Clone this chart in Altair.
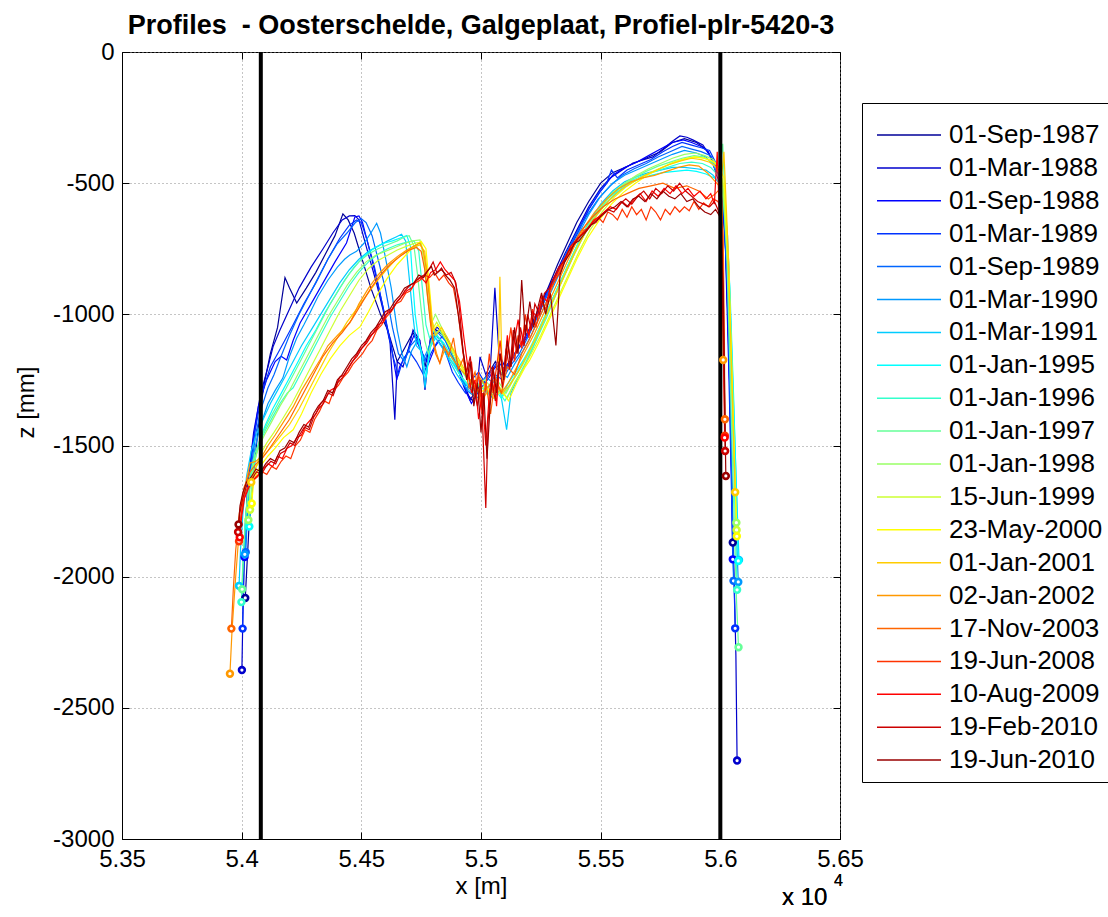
import altair as alt
import pandas as pd

# Survey dates (legend order) and their jet(20) colours
dates = [
    "01-Sep-1987", "01-Mar-1988", "01-Sep-1988", "01-Mar-1989", "01-Sep-1989",
    "01-Mar-1990", "01-Mar-1991", "01-Jan-1995", "01-Jan-1996", "01-Jan-1997",
    "01-Jan-1998", "15-Jun-1999", "23-May-2000", "01-Jan-2001", "02-Jan-2002",
    "17-Nov-2003", "19-Jun-2008", "10-Aug-2009", "19-Feb-2010", "19-Jun-2010",
]
jet_colors = [
    "#000099", "#0000cc", "#0000ff", "#0033ff", "#0066ff",
    "#0099ff", "#00ccff", "#00ffff", "#33ffcc", "#66ff99",
    "#99ff66", "#ccff33", "#ffff00", "#ffcc00", "#ff9900",
    "#ff6600", "#ff3300", "#ff0000", "#cc0000", "#990000",
]

x_ticks = [53500, 54000, 54500, 55000, 55500, 56000, 56500]
z_ticks = [-3000, -2500, -2000, -1500, -1000, -500, 0]
boundary_x = [54080, 56000]

# Profile (x [m], z [mm]) per survey
p1987_09 = [(54015, -2081), (54030, -1820), (54055, -1560), (54075, -1380), (54095, -1260), (54120, -1150), (54150, -1050), (54181, -860), (54200, -900), (54230, -957), (54270, -900), (54310, -840), (54350, -770), (54390, -700), (54423, -617), (54445, -640), (54470, -690), (54500, -780), (54540, -900), (54580, -1000), (54610, -1060), (54630, -1120), (54650, -1180), (54680, -1130), (54716, -1070), (54745, -1110), (54766, -1200), (54790, -1100), (54815, -1060), (54856, -1090), (54890, -1180), (54912, -1220), (54940, -1300), (54965, -1330), (54990, -1280), (55010, -1250), (55035, -1220), (55060, -1180), (55085, -1230), (55110, -1200), (55140, -1150), (55170, -1110), (55200, -1060), (55240, -990), (55280, -900), (55320, -810), (55360, -730), (55400, -650), (55450, -570), (55500, -500), (55550, -460), (55600, -440), (55650, -420), (55700, -400), (55750, -380), (55800, -345), (55850, -330), (55900, -345), (55940, -370), (55975, -420), (56000, -470), (56020, -700), (56035, -1100), (56045, -1500), (56052, -1870)]
p1988_03 = [(54001, -2356), (54005, -2150), (54012, -1900), (54025, -1650), (54050, -1450), (54080, -1300), (54110, -1200), (54131, -1124), (54160, -1060), (54200, -980), (54240, -900), (54290, -820), (54340, -750), (54381, -690), (54420, -640), (54450, -625), (54473, -624), (54490, -640), (54520, -740), (54560, -870), (54590, -980), (54620, -1109), (54640, -1402), (54650, -1180), (54674, -1200), (54700, -1120), (54716, -1060), (54745, -1100), (54766, -1288), (54787, -1098), (54815, -1048), (54856, -1086), (54890, -1150), (54912, -1212), (54954, -1326), (54983, -1288), (54996, -1162), (55020, -1230), (55040, -1190), (55058, -899), (55075, -1150), (55100, -1200), (55130, -1170), (55160, -1120), (55190, -1080), (55230, -1000), (55270, -920), (55310, -850), (55350, -770), (55400, -680), (55450, -590), (55500, -520), (55540, -480), (55590, -450), (55635, -423), (55680, -410), (55718, -400), (55760, -370), (55800, -340), (55831, -320), (55860, -325), (55885, -335), (55927, -354), (55960, -400), (55985, -470), (56005, -520), (56025, -800), (56040, -1300), (56055, -1900), (56065, -2300), (56070, -2701)]
p1988_09 = [(54012, -1925), (54025, -1700), (54045, -1500), (54070, -1350), (54104, -1250), (54140, -1180), (54165, -1160), (54188, -1174), (54215, -1100), (54244, -1033), (54290, -960), (54340, -880), (54390, -800), (54438, -728), (54473, -629), (54490, -625), (54505, -650), (54530, -740), (54560, -850), (54595, -990), (54625, -1120), (54648, -1250), (54660, -1200), (54690, -1150), (54720, -1080), (54750, -1140), (54780, -1190), (54810, -1120), (54840, -1080), (54870, -1130), (54900, -1200), (54930, -1280), (54960, -1340), (54985, -1300), (55010, -1270), (55035, -1240), (55060, -1200), (55090, -1230), (55120, -1190), (55150, -1140), (55190, -1090), (55230, -1020), (55270, -940), (55310, -860), (55350, -780), (55400, -690), (55450, -600), (55500, -530), (55550, -470), (55600, -440), (55650, -420), (55700, -395), (55750, -370), (55800, -345), (55845, -335), (55880, -345), (55920, -360), (55950, -380), (55975, -440), (56000, -480), (56020, -700), (56035, -1200), (56045, -1600), (56052, -1934)]
p1989_03 = [(54004, -2198), (54008, -2000), (54015, -1800), (54030, -1620), (54055, -1450), (54085, -1300), (54120, -1200), (54150, -1150), (54180, -1100), (54215, -1040), (54260, -960), (54310, -880), (54360, -790), (54410, -710), (54450, -660), (54480, -640), (54500, -650), (54525, -720), (54555, -820), (54585, -950), (54610, -1060), (54635, -1170), (54655, -1230), (54675, -1170), (54700, -1140), (54730, -1180), (54760, -1230), (54790, -1150), (54820, -1100), (54850, -1140), (54880, -1220), (54905, -1260), (54935, -1300), (54960, -1250), (54990, -1220), (55015, -1260), (55040, -1220), (55070, -1180), (55100, -1210), (55135, -1160), (55170, -1110), (55210, -1050), (55250, -970), (55290, -890), (55330, -820), (55370, -750), (55410, -680), (55450, -600), (55490, -540), (55525, -500), (55545, -450), (55570, -480), (55610, -450), (55660, -430), (55710, -410), (55760, -380), (55800, -360), (55840, -345), (55880, -355), (55920, -365), (55955, -375), (55980, -420), (56000, -470), (56020, -640), (56035, -1000), (56045, -1500), (56052, -1900), (56058, -2050), (56062, -2197)]
p1989_09 = [(54017, -1907), (54025, -1750), (54040, -1580), (54060, -1450), (54085, -1350), (54110, -1280), (54135, -1230), (54160, -1170), (54200, -1080), (54240, -1000), (54280, -930), (54320, -860), (54360, -790), (54400, -730), (54440, -690), (54475, -650), (54500, -636), (54520, -650), (54545, -700), (54570, -790), (54600, -900), (54630, -1050), (54655, -1150), (54680, -1180), (54705, -1120), (54735, -1090), (54766, -1180), (54790, -1100), (54820, -1070), (54850, -1100), (54880, -1160), (54910, -1220), (54940, -1290), (54970, -1310), (55000, -1250), (55030, -1280), (55060, -1230), (55090, -1250), (55120, -1200), (55160, -1150), (55200, -1080), (55240, -1000), (55280, -920), (55320, -840), (55360, -760), (55400, -690), (55445, -620), (55490, -560), (55540, -510), (55590, -470), (55640, -445), (55690, -425), (55740, -400), (55790, -380), (55840, -360), (55880, -370), (55920, -380), (55960, -395), (55990, -450), (56010, -520), (56030, -900), (56045, -1500), (56055, -2016)]
p1990_03 = [(54013, -1915), (54022, -1780), (54035, -1640), (54055, -1510), (54080, -1420), (54110, -1340), (54140, -1290), (54172, -1243), (54200, -1160), (54230, -1090), (54260, -1040), (54285, -995), (54320, -930), (54360, -870), (54400, -820), (54430, -790), (54452, -774), (54480, -760), (54510, -730), (54540, -690), (54564, -653), (54580, -690), (54600, -780), (54625, -900), (54650, -1060), (54670, -1150), (54690, -1200), (54710, -1140), (54735, -1100), (54760, -1170), (54785, -1120), (54810, -1080), (54840, -1110), (54870, -1170), (54900, -1210), (54930, -1260), (54960, -1290), (54990, -1270), (55020, -1240), (55050, -1260), (55080, -1220), (55110, -1240), (55140, -1190), (55175, -1140), (55210, -1080), (55250, -1000), (55290, -920), (55330, -840), (55370, -760), (55410, -690), (55450, -620), (55500, -550), (55550, -500), (55600, -470), (55650, -450), (55700, -430), (55750, -410), (55800, -390), (55850, -375), (55900, -385), (55940, -400), (55970, -430), (55990, -470), (56010, -520), (56030, -700), (56045, -1100), (56060, -1600), (56070, -1900), (56075, -2020)]
p1991_03 = [(53989, -2035), (53995, -1900), (54005, -1760), (54020, -1620), (54040, -1520), (54065, -1450), (54090, -1400), (54120, -1340), (54150, -1290), (54180, -1240), (54215, -1180), (54250, -1120), (54290, -1060), (54330, -1000), (54370, -940), (54410, -880), (54450, -830), (54490, -790), (54530, -760), (54570, -740), (54610, -720), (54645, -705), (54668, -695), (54685, -720), (54700, -860), (54715, -1000), (54730, -1120), (54750, -1140), (54766, -1280), (54785, -1130), (54810, -1090), (54840, -1130), (54870, -1180), (54900, -1230), (54930, -1270), (54960, -1300), (54990, -1320), (55020, -1290), (55050, -1320), (55080, -1290), (55107, -1440), (55125, -1300), (55150, -1250), (55180, -1200), (55215, -1130), (55250, -1050), (55290, -960), (55330, -880), (55370, -800), (55410, -720), (55450, -650), (55500, -580), (55550, -530), (55600, -495), (55650, -475), (55700, -460), (55750, -450), (55800, -440), (55850, -440), (55900, -445), (55940, -450), (55970, -470), (55995, -500), (56015, -560), (56035, -800), (56050, -1200), (56065, -1600), (56078, -1936)]
p1995_01 = [(54032, -1809), (54040, -1680), (54055, -1560), (54075, -1480), (54100, -1420), (54130, -1360), (54160, -1310), (54195, -1250), (54230, -1190), (54270, -1120), (54310, -1060), (54350, -990), (54390, -930), (54430, -870), (54470, -820), (54510, -780), (54550, -750), (54590, -730), (54630, -720), (54660, -710), (54690, -700), (54705, -740), (54715, -880), (54725, -1000), (54740, -1100), (54755, -1160), (54770, -1240), (54790, -1120), (54815, -1080), (54845, -1110), (54875, -1160), (54905, -1220), (54935, -1260), (54965, -1290), (54995, -1270), (55025, -1300), (55055, -1280), (55085, -1320), (55115, -1260), (55145, -1220), (55180, -1170), (55215, -1110), (55255, -1030), (55295, -950), (55335, -870), (55375, -790), (55415, -720), (55460, -650), (55510, -590), (55560, -540), (55610, -505), (55660, -485), (55710, -470), (55760, -460), (55810, -455), (55860, -450), (55900, -455), (55940, -465), (55975, -480), (56000, -500), (56020, -600), (56040, -900), (56055, -1300), (56068, -1700), (56075, -1940)]
p1996_01 = [(53999, -2097), (54005, -1950), (54015, -1800), (54030, -1660), (54050, -1560), (54075, -1490), (54100, -1440), (54130, -1390), (54160, -1340), (54190, -1300), (54215, -1280), (54250, -1220), (54290, -1150), (54330, -1080), (54370, -1010), (54410, -950), (54450, -890), (54490, -840), (54530, -800), (54570, -770), (54610, -750), (54650, -735), (54690, -725), (54720, -720), (54740, -760), (54755, -900), (54770, -1040), (54785, -1090), (54805, -1060), (54830, -1100), (54860, -1150), (54890, -1200), (54920, -1240), (54950, -1270), (54980, -1300), (55010, -1280), (55040, -1310), (55070, -1290), (55100, -1330), (55130, -1280), (55160, -1230), (55195, -1170), (55235, -1090), (55275, -1010), (55315, -920), (55355, -840), (55395, -760), (55435, -690), (55480, -620), (55530, -560), (55580, -520), (55630, -490), (55680, -470), (55730, -455), (55780, -440), (55830, -425), (55880, -420), (55925, -425), (55960, -440), (55990, -470), (56010, -520), (56030, -800), (56045, -1200), (56060, -1700), (56070, -2050)]
p1997_01 = [(54002, -2048), (54008, -1900), (54018, -1750), (54033, -1620), (54055, -1530), (54080, -1470), (54110, -1410), (54140, -1360), (54175, -1300), (54210, -1240), (54250, -1170), (54290, -1100), (54330, -1030), (54370, -960), (54410, -900), (54450, -845), (54490, -800), (54530, -770), (54570, -750), (54610, -735), (54650, -720), (54680, -705), (54700, -700), (54720, -740), (54735, -850), (54750, -980), (54765, -1100), (54780, -1150), (54800, -1080), (54825, -1060), (54855, -1100), (54885, -1160), (54915, -1210), (54945, -1250), (54975, -1280), (55005, -1260), (55035, -1300), (55065, -1270), (55095, -1310), (55125, -1260), (55160, -1210), (55195, -1150), (55235, -1070), (55275, -990), (55315, -910), (55355, -830), (55395, -750), (55440, -670), (55490, -600), (55540, -550), (55590, -510), (55640, -480), (55690, -455), (55740, -435), (55790, -420), (55840, -405), (55890, -395), (55930, -400), (55965, -420), (55995, -460), (56010, -350), (56025, -700), (56040, -1200), (56055, -1700), (56068, -2100), (56076, -2269)]
p1998_01 = [(54028, -1784), (54035, -1660), (54050, -1570), (54070, -1510), (54095, -1460), (54125, -1410), (54160, -1350), (54200, -1290), (54240, -1220), (54280, -1150), (54320, -1080), (54360, -1010), (54400, -950), (54440, -890), (54480, -840), (54520, -800), (54560, -775), (54600, -760), (54640, -745), (54680, -730), (54715, -720), (54745, -716), (54760, -780), (54775, -920), (54790, -1040), (54810, -1000), (54835, -1050), (54865, -1100), (54895, -1160), (54925, -1210), (54955, -1250), (54985, -1270), (55015, -1250), (55045, -1280), (55075, -1260), (55105, -1300), (55135, -1250), (55170, -1200), (55205, -1140), (55245, -1060), (55285, -980), (55325, -900), (55365, -820), (55405, -740), (55450, -660), (55500, -590), (55550, -535), (55600, -500), (55650, -470), (55700, -445), (55750, -425), (55800, -405), (55850, -390), (55895, -385), (55935, -395), (55970, -410), (55995, -440), (56010, -500), (56030, -800), (56045, -1200), (56058, -1550), (56067, -1794)]
p1999_06 = [(54035, -1745), (54045, -1650), (54060, -1580), (54080, -1530), (54105, -1490), (54135, -1450), (54170, -1400), (54210, -1340), (54250, -1270), (54290, -1200), (54330, -1130), (54370, -1060), (54410, -990), (54450, -930), (54490, -870), (54530, -825), (54570, -795), (54610, -775), (54650, -755), (54690, -740), (54725, -728), (54750, -725), (54765, -800), (54780, -950), (54795, -1060), (54815, -1030), (54840, -1070), (54870, -1120), (54900, -1170), (54930, -1220), (54960, -1260), (54990, -1290), (55020, -1270), (55050, -1300), (55080, -1280), (55110, -1320), (55140, -1260), (55175, -1210), (55210, -1150), (55250, -1080), (55290, -1000), (55330, -920), (55370, -840), (55410, -760), (55455, -680), (55505, -610), (55555, -555), (55605, -515), (55655, -485), (55705, -460), (55755, -440), (55805, -420), (55855, -405), (55900, -400), (55940, -405), (55975, -420), (56000, -450), (56015, -520), (56035, -850), (56050, -1300), (56062, -1650), (56068, -1822)]
p2000_05 = [(54042, -1721), (54050, -1640), (54065, -1600), (54085, -1570), (54110, -1540), (54140, -1510), (54175, -1470), (54215, -1440), (54250, -1380), (54290, -1300), (54330, -1230), (54370, -1170), (54410, -1120), (54450, -1080), (54494, -1048), (54530, -990), (54570, -920), (54610, -860), (54650, -810), (54690, -770), (54720, -740), (54750, -722), (54770, -750), (54785, -900), (54800, -1060), (54820, -1040), (54845, -1080), (54875, -1130), (54905, -1180), (54935, -1230), (54965, -1270), (54995, -1300), (55025, -1280), (55055, -1320), (55085, -1290), (55115, -1330), (55150, -1260), (55185, -1200), (55204, -1174), (55240, -1110), (55280, -1030), (55320, -950), (55360, -870), (55400, -790), (55445, -710), (55495, -640), (55545, -580), (55595, -535), (55645, -500), (55695, -470), (55745, -445), (55795, -425), (55845, -410), (55890, -400), (55930, -405), (55965, -415), (55995, -440), (56015, -480), (56035, -800), (56050, -1250), (56062, -1650), (56069, -1846)]
p2001_01 = [(54040, -1640), (54055, -1590), (54075, -1560), (54100, -1530), (54130, -1500), (54165, -1460), (54200, -1420), (54240, -1360), (54280, -1290), (54320, -1220), (54360, -1150), (54400, -1090), (54440, -1030), (54480, -980), (54520, -930), (54560, -880), (54600, -835), (54640, -795), (54680, -765), (54715, -745), (54745, -735), (54765, -760), (54780, -880), (54795, -1020), (54810, -1080), (54835, -1050), (54865, -1100), (54895, -1150), (54925, -1200), (54955, -1250), (54985, -1290), (55015, -1310), (55045, -1280), (55070, -1300), (55079, -857), (55090, -1300), (55120, -1270), (55155, -1220), (55190, -1160), (55230, -1090), (55270, -1010), (55310, -930), (55350, -850), (55390, -770), (55435, -690), (55485, -620), (55535, -565), (55585, -525), (55635, -495), (55685, -470), (55735, -450), (55785, -430), (55835, -415), (55880, -405), (55920, -410), (55955, -420), (55985, -440), (56005, -480), (56015, -380), (56030, -700), (56045, -1150), (56056, -1500), (56062, -1678)]
p2002_01 = [(53951, -2370), (53960, -2200), (53975, -2000), (53990, -1820), (54010, -1680), (54035, -1567), (54060, -1560), (54085, -1540), (54110, -1500), (54140, -1460), (54175, -1410), (54215, -1353), (54250, -1290), (54290, -1230), (54327, -1174), (54360, -1120), (54400, -1080), (54452, -1033), (54490, -960), (54530, -900), (54570, -850), (54610, -810), (54650, -780), (54690, -755), (54720, -740), (54745, -728), (54760, -760), (54775, -850), (54790, -1000), (54800, -1100), (54815, -1150), (54828, -1186), (54850, -1130), (54875, -1160), (54905, -1200), (54935, -1230), (54965, -1260), (54995, -1240), (55025, -1280), (55055, -1250), (55085, -1300), (55115, -1260), (55150, -1200), (55185, -1140), (55225, -1070), (55265, -990), (55305, -910), (55345, -830), (55385, -750), (55430, -670), (55475, -610), (55525, -560), (55575, -520), (55625, -495), (55675, -480), (55725, -470), (55775, -455), (55825, -440), (55870, -430), (55910, -435), (55945, -460), (55975, -490), (55995, -510), (56005, -480), (56010, -700), (56012, -1174)]
p2003_11 = [(53957, -2198), (53965, -2050), (53975, -1900), (53990, -1760), (54010, -1660), (54035, -1600), (54060, -1570), (54085, -1550), (54110, -1520), (54140, -1480), (54170, -1440), (54200, -1400), (54235, -1340), (54270, -1280), (54305, -1220), (54340, -1160), (54380, -1110), (54420, -1070), (54460, -1020), (54500, -960), (54540, -900), (54580, -850), (54620, -810), (54660, -780), (54700, -755), (54730, -745), (54750, -760), (54765, -830), (54780, -960), (54795, -1080), (54810, -1150), (54828, -1186), (54845, -1120), (54865, -1160), (54885, -1090), (54905, -1210), (54925, -1170), (54950, -1280), (54975, -1220), (55000, -1350), (55020, -1260), (55040, -1380), (55060, -1240), (55085, -1300), (55110, -1200), (55140, -1230), (55170, -1150), (55200, -1100), (55235, -1030), (55270, -960), (55305, -880), (55340, -810), (55380, -740), (55420, -680), (55465, -630), (55510, -590), (55560, -560), (55610, -540), (55660, -520), (55710, -510), (55760, -500), (55810, -520), (55860, -510), (55910, -530), (55950, -560), (55980, -540), (56000, -520), (56012, -700), (56017, -1100), (56019, -1400)]
p2008_06 = [(53989, -1865), (53995, -1780), (54005, -1720), (54020, -1670), (54040, -1640), (54065, -1620), (54085, -1600), (54105, -1610), (54125, -1580), (54145, -1590), (54165, -1560), (54185, -1540), (54205, -1550), (54225, -1500), (54245, -1480), (54265, -1440), (54285, -1450), (54305, -1400), (54325, -1370), (54345, -1330), (54365, -1340), (54385, -1290), (54405, -1270), (54425, -1240), (54445, -1220), (54465, -1190), (54485, -1170), (54505, -1150), (54525, -1120), (54545, -1100), (54565, -1060), (54585, -1040), (54605, -1010), (54625, -990), (54645, -960), (54665, -950), (54685, -920), (54705, -910), (54725, -880), (54745, -870), (54765, -850), (54785, -860), (54805, -840), (54825, -870), (54845, -850), (54865, -880), (54885, -900), (54905, -1000), (54925, -1150), (54945, -1250), (54960, -1180), (54975, -1320), (54990, -1220), (55005, -1380), (55020, -1280), (55035, -1150), (55050, -1300), (55065, -1200), (55080, -1100), (55095, -1250), (55110, -1150), (55125, -1050), (55140, -1180), (55155, -1080), (55170, -1130), (55185, -1000), (55200, -1090), (55215, -980), (55230, -1050), (55250, -950), (55270, -980), (55290, -900), (55310, -870), (55330, -840), (55350, -790), (55370, -770), (55390, -730), (55410, -710), (55430, -680), (55450, -670), (55470, -640), (55490, -630), (55510, -650), (55530, -610), (55550, -620), (55570, -640), (55590, -600), (55610, -630), (55630, -590), (55650, -620), (55670, -600), (55690, -640), (55710, -590), (55730, -610), (55750, -640), (55770, -600), (55790, -620), (55810, -590), (55830, -610), (55850, -590), (55870, -605), (55890, -570), (55910, -600), (55930, -575), (55950, -590), (55970, -560), (55990, -570), (56005, -600), (56012, -900), (56016, -1200), (56019, -1463)]
p2009_08 = [(53992, -1850), (54000, -1770), (54012, -1700), (54030, -1660), (54050, -1630), (54070, -1610), (54090, -1590), (54110, -1570), (54130, -1580), (54150, -1540), (54170, -1550), (54190, -1510), (54210, -1500), (54230, -1470), (54250, -1460), (54270, -1420), (54290, -1400), (54310, -1380), (54330, -1340), (54350, -1320), (54370, -1290), (54390, -1280), (54410, -1240), (54430, -1230), (54450, -1200), (54470, -1170), (54490, -1140), (54510, -1120), (54530, -1090), (54550, -1070), (54570, -1040), (54590, -1030), (54610, -990), (54630, -980), (54650, -950), (54670, -930), (54690, -910), (54710, -900), (54730, -870), (54750, -860), (54770, -880), (54790, -840), (54810, -830), (54830, -800), (54850, -830), (54870, -850), (54890, -870), (54910, -950), (54930, -1100), (54945, -1200), (54960, -1300), (54975, -1250), (54990, -1400), (55005, -1300), (55020, -1500), (55035, -1300), (55050, -1200), (55065, -1350), (55080, -1150), (55095, -1230), (55110, -1080), (55125, -1200), (55140, -1100), (55155, -1020), (55170, -1120), (55185, -1040), (55200, -1080), (55215, -990), (55235, -1010), (55255, -930), (55275, -950), (55295, -880), (55315, -850), (55335, -810), (55355, -780), (55375, -740), (55395, -720), (55415, -700), (55440, -680), (55465, -650), (55490, -630), (55515, -610), (55540, -590), (55565, -600), (55590, -570), (55615, -590), (55640, -560), (55665, -540), (55690, -570), (55715, -530), (55740, -550), (55765, -520), (55790, -540), (55815, -510), (55840, -540), (55865, -520), (55890, -550), (55915, -530), (55940, -560), (55960, -540), (55975, -580), (55987, -380), (55995, -600), (56008, -900), (56014, -1200), (56018, -1470)]
p2010_02 = [(53985, -1830), (53992, -1760), (54005, -1700), (54022, -1650), (54042, -1630), (54062, -1600), (54082, -1610), (54102, -1580), (54122, -1560), (54142, -1570), (54162, -1530), (54182, -1520), (54202, -1490), (54222, -1500), (54242, -1460), (54262, -1430), (54282, -1440), (54302, -1390), (54322, -1360), (54342, -1340), (54362, -1300), (54382, -1310), (54402, -1260), (54422, -1240), (54442, -1210), (54462, -1180), (54482, -1160), (54502, -1130), (54522, -1110), (54542, -1080), (54562, -1060), (54582, -1030), (54602, -1000), (54622, -990), (54642, -960), (54662, -940), (54682, -910), (54702, -890), (54722, -880), (54742, -860), (54762, -850), (54782, -830), (54800, -800), (54815, -840), (54835, -830), (54855, -850), (54875, -840), (54895, -880), (54910, -980), (54925, -1140), (54940, -1220), (54955, -1160), (54970, -1280), (54985, -1350), (55000, -1250), (55010, -1500), (55020, -1738), (55030, -1400), (55045, -1250), (55060, -1330), (55075, -1180), (55090, -1280), (55105, -1130), (55120, -1210), (55135, -1060), (55150, -1150), (55165, -1050), (55180, -1120), (55195, -1000), (55210, -1060), (55225, -960), (55245, -1000), (55265, -920), (55285, -900), (55305, -860), (55325, -820), (55345, -800), (55365, -760), (55385, -740), (55405, -710), (55430, -690), (55455, -660), (55480, -650), (55505, -620), (55530, -600), (55555, -610), (55580, -580), (55605, -560), (55630, -580), (55655, -550), (55680, -530), (55705, -560), (55730, -520), (55755, -540), (55780, -510), (55805, -530), (55830, -500), (55855, -530), (55880, -550), (55905, -570), (55930, -580), (55955, -590), (55975, -570), (55990, -600), (56005, -650), (56012, -1000), (56017, -1300), (56020, -1521)]
p2010_06 = [(53987, -1801), (53993, -1730), (54005, -1680), (54020, -1640), (54040, -1620), (54060, -1590), (54080, -1600), (54100, -1570), (54120, -1550), (54140, -1560), (54160, -1520), (54180, -1510), (54200, -1480), (54220, -1490), (54240, -1450), (54260, -1420), (54280, -1430), (54300, -1380), (54320, -1350), (54340, -1330), (54360, -1290), (54380, -1300), (54400, -1250), (54420, -1230), (54440, -1200), (54460, -1170), (54480, -1150), (54500, -1120), (54520, -1100), (54540, -1070), (54560, -1050), (54580, -1020), (54600, -990), (54620, -980), (54640, -950), (54660, -930), (54680, -900), (54700, -890), (54720, -880), (54740, -850), (54760, -860), (54780, -830), (54793, -818), (54805, -850), (54820, -840), (54835, -824), (54850, -850), (54870, -869), (54890, -900), (54905, -1000), (54925, -1136), (54940, -1250), (54955, -1180), (54970, -1350), (54985, -1260), (55000, -1450), (55012, -1300), (55025, -1550), (55038, -1350), (55050, -1200), (55065, -1300), (55080, -1150), (55095, -1250), (55110, -1100), (55125, -1200), (55140, -1050), (55155, -1150), (55170, -869), (55185, -1080), (55204, -951), (55220, -1050), (55236, -980), (55253, -918), (55270, -1000), (55290, -920), (55313, -1119), (55330, -850), (55350, -800), (55370, -770), (55390, -730), (55410, -720), (55435, -690), (55460, -660), (55485, -640), (55510, -620), (55535, -600), (55560, -590), (55585, -570), (55610, -590), (55635, -560), (55660, -550), (55685, -570), (55710, -540), (55735, -560), (55760, -530), (55785, -550), (55810, -560), (55835, -540), (55860, -570), (55885, -560), (55910, -590), (55935, -610), (55960, -620), (55980, -600), (56000, -630), (56012, -900), (56018, -1300), (56023, -1616)]

profiles = [
    p1987_09, p1988_03, p1988_09, p1989_03, p1989_09, p1990_03, p1991_03,
    p1995_01, p1996_01, p1997_01, p1998_01, p1999_06, p2000_05, p2001_01,
    p2002_01, p2003_11, p2008_06, p2009_08, p2010_02, p2010_06,
]

rows = []
ends = []
for k, (date, prof) in enumerate(zip(dates, profiles)):
    for i, (x, z) in enumerate(prof):
        rows.append({"date": date, "series": k, "i": i, "x": x, "z": z})
    for x, z in (prof[0], prof[-1]):
        ends.append({"date": date, "series": k, "x": x, "z": z})
lines_df = pd.DataFrame(rows)
ends_df = pd.DataFrame(ends)
bounds_df = pd.DataFrame({"x": boundary_x})

FONT = "Liberation Sans"
PLOT_W = 718
PLOT_H = 787

x_scale = alt.Scale(domain=[53500, 56500], nice=False, zero=False)
z_scale = alt.Scale(domain=[-3000, 0], nice=False, zero=False)


def inner_ticks(orient, offset, values):
    """Tick-only axis pushed across the plot so its ticks point inward."""
    return alt.Axis(
        orient=orient,
        offset=offset,
        values=values,
        labels=False,
        domain=False,
        grid=False,
        ticks=True,
        tickSize=7,
        tickColor="black",
        tickWidth=1,
        title=None,
    )


x_main = alt.X(
    "x:Q",
    scale=x_scale,
    axis=alt.Axis(
        values=x_ticks,
        labelExpr="format(datum.value / 10000, '.2~f')",
        labelFlush=False,
        title="x [m]",
        grid=True,
        labelPadding=8,
        titlePadding=3,
    ),
)
z_main = alt.Y(
    "z:Q",
    scale=z_scale,
    axis=alt.Axis(
        values=z_ticks,
        labelExpr="datum.value == 0 ? '0' : '-' + format(-datum.value, 'd')",
        labelFlush=False,
        title="z [mm]",
        titleY=350,
        grid=True,
        labelPadding=8,
        titlePadding=14,
    ),
)

color_scale = alt.Scale(domain=dates, range=jet_colors)

lines = alt.Chart(lines_df).mark_line(strokeWidth=1.2, clip=True).encode(
    x=x_main,
    y=z_main,
    order=alt.Order("i:Q"),
    color=alt.Color(
        "date:N",
        scale=color_scale,
        legend=alt.Legend(
            title=" ",
            titleFontSize=10,
            titlePadding=1,
            orient="none",
            legendX=740,
            legendY=51,
            symbolType="stroke",
            symbolSize=4096,
            symbolStrokeWidth=1.5,
            symbolOffset=6,
            clipHeight=26,
            rowPadding=6.9,
            labelFont=FONT,
            labelFontSize=26,
            labelColor="black",
            labelOffset=7,
            labelLimit=0,
            padding=8,
            strokeColor="black",
            fillColor="white",
        ),
    ),
)

# bottom-edge inward ticks come with the boundary rules
boundaries = alt.Chart(bounds_df).mark_rule(color="black", strokeWidth=4).encode(
    x=alt.X("x:Q", scale=x_scale, axis=inner_ticks("top", -PLOT_H, x_ticks))
)

# top-edge and left-edge inward ticks come with the end markers
markers = alt.Chart(ends_df).mark_point(
    shape="circle", filled=False, fill="white", fillOpacity=1, size=34, strokeWidth=2.6, opacity=1
).encode(
    x=alt.X("x:Q", scale=x_scale, axis=inner_ticks("bottom", -PLOT_H, x_ticks)),
    y=alt.Y("z:Q", scale=z_scale, axis=inner_ticks("right", -PLOT_W, z_ticks)),
    stroke=alt.Stroke("date:N", scale=color_scale, legend=None),
)

# right-edge inward ticks
right_ticks = alt.Chart(ends_df).mark_point(opacity=0).encode(
    y=alt.Y("z:Q", scale=z_scale, axis=inner_ticks("left", -PLOT_W, z_ticks))
)

exp_base = alt.Chart(bounds_df).mark_text(
    font=FONT, fontSize=24, align="left", baseline="middle", color="black"
).encode(x=alt.value(660), y=alt.value(846), text=alt.value("x 10"))
exp_power = alt.Chart(bounds_df).mark_text(
    font=FONT, fontSize=16, align="left", baseline="middle", color="black"
).encode(x=alt.value(712), y=alt.value(829), text=alt.value("4"))

chart = (
    alt.layer(lines, boundaries, markers, right_ticks, exp_base, exp_power)
    .resolve_axis(x="independent", y="independent")
    .properties(
        width=PLOT_W,
        height=PLOT_H,
        padding={"left": 122, "top": 52, "right": 268, "bottom": 78},
        autosize="none",
        background="white",
        title=alt.TitleParams(
            "Profiles\u00a0 - Oosterschelde, Galgeplaat, Profiel-plr-5420-3",
            font=FONT,
            fontSize=27,
            fontWeight="bold",
            color="black",
            anchor="middle",
            offset=0,
        ),
    )
    .configure_view(stroke="black", strokeWidth=1)
    .configure_axis(
        domainColor="black",
        domainWidth=1,
        ticks=False,
        gridColor="#8a8a8a",
        gridDash=[1, 3],
        gridWidth=1,
        labelFont=FONT,
        labelFontSize=24,
        labelColor="black",
        titleFont=FONT,
        titleFontSize=24,
        titleFontWeight="normal",
        titleColor="black",
    )
)

chart.save("out.html", embed_options={"renderer": "svg", "actions": False})
